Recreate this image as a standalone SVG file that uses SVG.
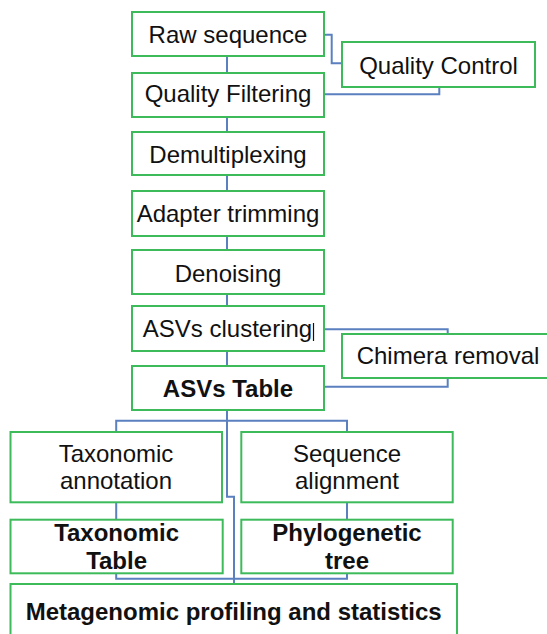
<svg xmlns="http://www.w3.org/2000/svg" width="547" height="634" viewBox="0 0 547 634">
  <style>
    .box { fill: #ffffff; stroke: #3dbb5a; stroke-width: 2; }
    .lbl { font-family: "Liberation Sans", Arial, sans-serif; font-size: 24px; fill: #111111; text-anchor: middle; }
    .bold { font-weight: bold; }
    .wire { fill: none; stroke: #5b80c0; stroke-width: 2; }
  </style>
  <rect width="547" height="634" fill="#ffffff"/>

  <!-- connectors -->
  <g id="connectors">
    <path class="wire" d="M227 56 V73 M227 117 V132 M227 175 V191 M227 236 V250 M227 294 V306 M227 351 V366"/>
    <path class="wire" d="M324 34.7 H331.7 V63.3 H342"/>
    <path class="wire" d="M324 94.3 H439.3 V87"/>
    <path class="wire" d="M324 329.3 H447.7 V334"/>
    <path class="wire" d="M324 386.7 H447.7 V378"/>
    <path class="wire" d="M227 410 V496.7 H234 V584"/>
    <path class="wire" d="M116.2 432 V420.7 H347 V432"/>
    <path class="wire" d="M116.2 502.3 V519.7 M347 502.3 V519.7"/>
    <path class="wire" d="M116.2 573.3 V578.7 H347 V573.3"/>
  </g>

  <g id="raw-sequence">
    <rect class="box" x="132" y="12" width="192" height="44"/>
    <text class="lbl" x="228" y="43.3">Raw sequence</text>
  </g>
  <g id="quality-control">
    <rect class="box" x="342" y="42" width="193" height="45"/>
    <text class="lbl" x="438.5" y="74">Quality Control</text>
  </g>
  <g id="quality-filtering">
    <rect class="box" x="132" y="73" width="192" height="44"/>
    <text class="lbl" x="228" y="102">Quality Filtering</text>
  </g>
  <g id="demultiplexing">
    <rect class="box" x="132" y="132" width="192" height="43"/>
    <text class="lbl" x="228" y="163.3">Demultiplexing</text>
  </g>
  <g id="adapter-trimming">
    <rect class="box" x="132" y="191" width="192" height="45"/>
    <text class="lbl" x="228" y="221.7">Adapter trimming</text>
  </g>
  <g id="denoising">
    <rect class="box" x="132" y="250" width="192" height="44"/>
    <text class="lbl" x="228" y="281.7">Denoising</text>
  </g>
  <g id="asv-clustering">
    <rect class="box" x="132" y="306" width="192" height="45"/>
    <text class="lbl" x="227.5" y="336.7">ASVs clustering</text>
    <line x1="313.5" y1="323" x2="313.5" y2="341" stroke="#111111" stroke-width="1.2"/>
  </g>
  <g id="chimera-removal">
    <rect class="box" x="342" y="334" width="212" height="44"/>
    <text class="lbl" x="448" y="364.3">Chimera removal</text>
  </g>
  <g id="asv-table">
    <rect class="box" x="132" y="366" width="192" height="44"/>
    <text class="lbl bold" x="228" y="396.7">ASVs Table</text>
  </g>
  <g id="taxonomic-annotation">
    <rect class="box" x="10.5" y="432" width="211.5" height="70.3"/>
    <text class="lbl" x="116" y="461.7">Taxonomic</text>
    <text class="lbl" x="116" y="489.3">annotation</text>
  </g>
  <g id="sequence-alignment">
    <rect class="box" x="241.3" y="432" width="211.4" height="70.3"/>
    <text class="lbl" x="347" y="461.7">Sequence</text>
    <text class="lbl" x="347" y="489.3">alignment</text>
  </g>
  <g id="taxonomic-table">
    <rect class="box" x="10.5" y="519.7" width="212.2" height="53.6"/>
    <text class="lbl bold" x="116.6" y="540.7">Taxonomic</text>
    <text class="lbl bold" x="116.6" y="569.3">Table</text>
  </g>
  <g id="phylogenetic-tree">
    <rect class="box" x="241.3" y="519.7" width="211.4" height="53.6"/>
    <text class="lbl bold" x="347" y="540.7">Phylogenetic</text>
    <text class="lbl bold" x="347" y="569.3">tree</text>
  </g>
  <g id="metagenomic-profiling">
    <rect class="box" x="10.5" y="584" width="446.5" height="60"/>
    <text class="lbl bold" x="233.7" y="620">Metagenomic profiling and statistics</text>
  </g>
</svg>
